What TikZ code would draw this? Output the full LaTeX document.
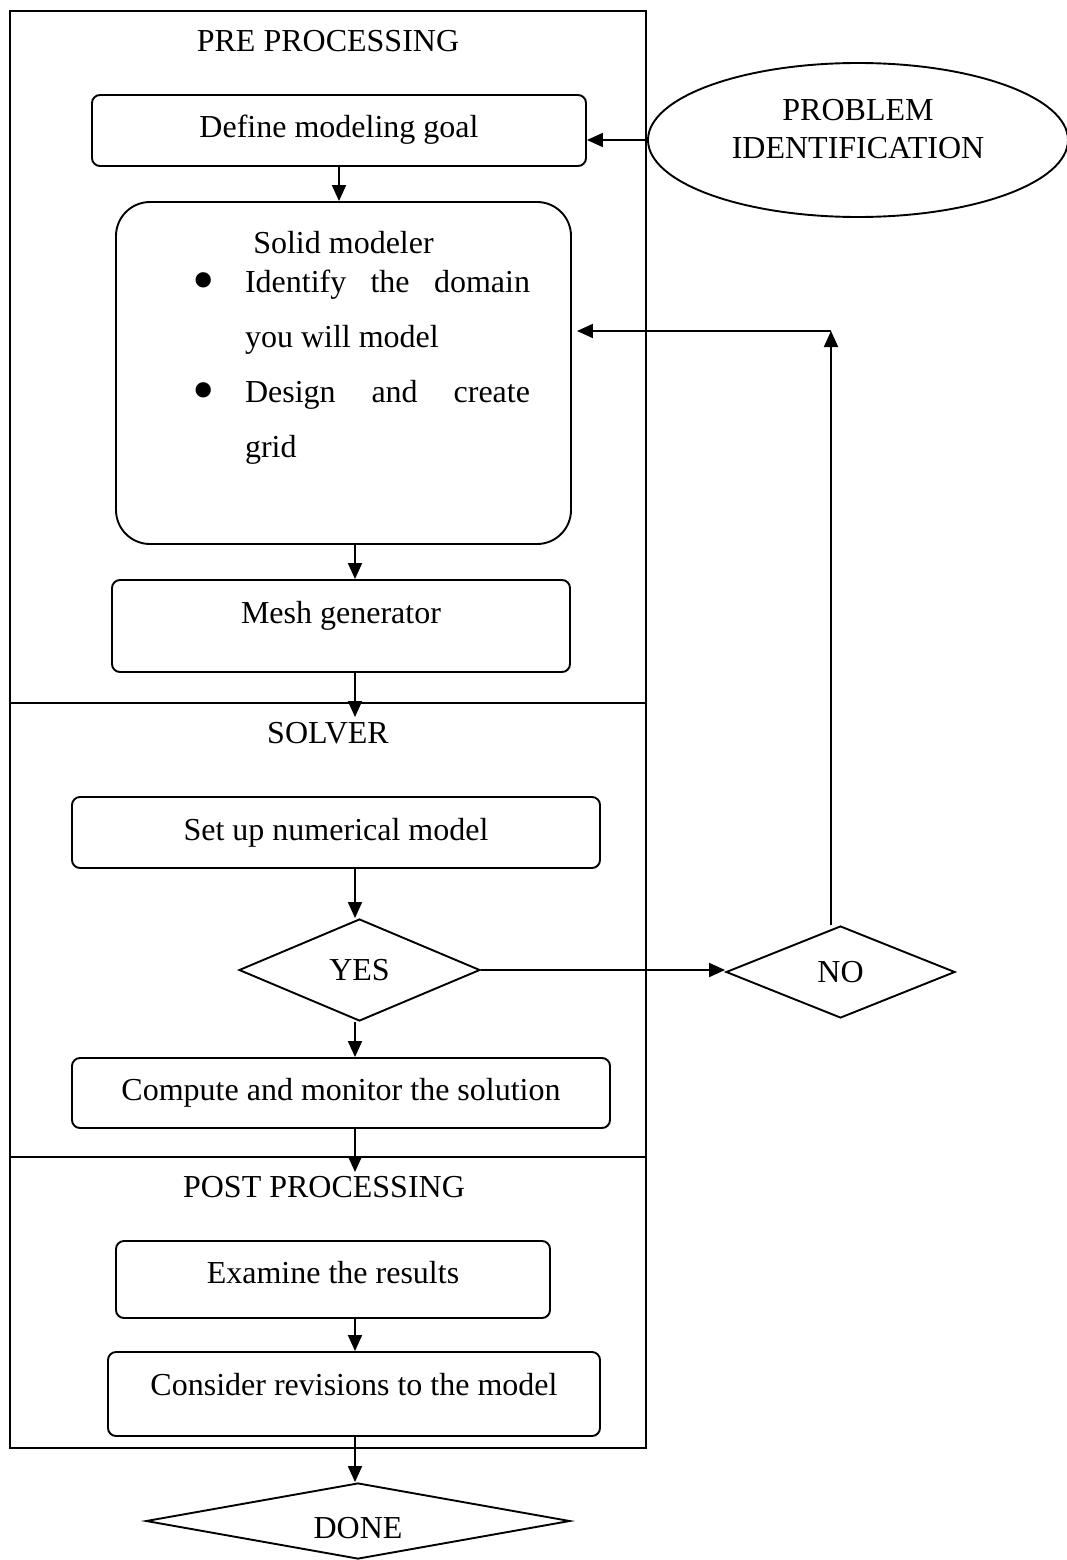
\documentclass[tikz,border=0pt]{standalone}
\usepackage{fontspec}
\setmainfont{Liberation Serif}
\usetikzlibrary{shapes.geometric,arrows.meta}

\tikzstyle{block} = [draw, rectangle, rounded corners=8pt, inner sep=0pt,
    text height=22pt, text depth=7pt]
\tikzstyle{solidbox} = [draw, rectangle, rounded corners=34pt, inner sep=0pt,
    minimum width=455pt, minimum height=342pt]
\tikzstyle{decision} = [draw, diamond, inner sep=0pt]
\tikzstyle{start} = [draw, ellipse, inner sep=0pt, align=center]
\tikzstyle{stage} = [anchor=base, inner sep=0pt]

\begin{document}
\begin{tikzpicture}[x=1pt, y=-1pt, line width=1.9pt,
    >={Triangle[length=16pt,width=14pt]},
    every node/.style={font=\fontsize{32}{38}\selectfont}]
    \useasboundingbox (0,0) rectangle (1067,1560);

    % frame with the three stages
    \draw (10,11) rectangle (646,1448);
    \draw (10,703) -- (646,703);
    \draw (10,1157) -- (646,1157);

    \node[stage] (pre) at (328,52) {PRE PROCESSING};
    \node[stage] (solver) at (328,743) {SOLVER};
    \node[stage] (post) at (324,1197) {POST PROCESSING};

    \node[block, minimum width=494pt, minimum height=71pt] (goal) at (339,130.5) {Define modeling goal};
    \node[start, minimum width=420pt, minimum height=154pt, text depth=23pt] (problem) at (858,140) {PROBLEM\\IDENTIFICATION};
    \node[solidbox] (solid) at (343.5,373) {%
      \begin{minipage}[c][342pt][t]{373pt}
        \fontsize{32}{55}\selectfont
        \vspace*{35pt}
        {\centering\raisebox{-16pt}[0pt][0pt]{Solid modeler}\par}
        \begin{list}{\raisebox{-9pt}{\scalebox{2}{\textbullet}}}{\setlength{\leftmargin}{88pt}\setlength{\labelwidth}{24pt}%
            \setlength{\labelsep}{30pt}\setlength{\topsep}{0pt}\setlength{\partopsep}{0pt}%
            \setlength{\itemsep}{0pt}\setlength{\parsep}{0pt}}
          \item Identify\hfill the\hfill domain\\ you will model
          \item Design\hfill and\hfill create\\ grid
        \end{list}
      \end{minipage}};
    \node[block, minimum width=458pt, minimum height=92pt, text depth=28pt] (mesh) at (341,626) {Mesh generator};

    \node[block, minimum width=528pt, minimum height=71pt] (setup) at (336,832.5) {Set up numerical model};
    \node[decision, aspect=2.36, minimum width=241pt, minimum height=102pt] (yes) at (359.5,970) {YES};
    \node[decision, aspect=2.49, minimum width=229pt, minimum height=92pt] (no) at (840.5,972) {NO};
    \node[block, minimum width=538pt, minimum height=70pt] (compute) at (341,1093) {Compute and monitor the solution};

    \node[block, minimum width=434pt, minimum height=77pt, text depth=15pt] (examine) at (333,1279.5) {Examine the results};
    \node[block, minimum width=492pt, minimum height=84pt, text depth=20pt] (revise) at (354,1394) {Consider revisions to the model};
    \node[decision, aspect=5.58, minimum width=424pt, minimum height=76pt, text height=34pt, text depth=0pt] (done) at (358,1521) {DONE};

    \coordinate (spine) at (355,0);
    \coordinate (solvertip) at (355,717);
    \coordinate (posttip) at (355,1172);
    \coordinate (loop) at (831,331);

    \draw[->] (problem.west) -- (problem.west -| goal.east);
    \draw[->] (goal.south) -- (goal.south |- solid.north);
    \draw[->] (solid.south -| spine) -- (mesh.north -| spine);
    \draw[->] (mesh.south -| spine) -- (solvertip);
    \draw[->] (setup.south -| spine) -- (yes.north -| spine);
    \draw[->] (yes.east) -- (yes.east -| no.west);
    \draw[->] (yes.south -| spine) -- (compute.north -| spine);
    \draw[->] (compute.south -| spine) -- (posttip);
    \draw[->] (examine.south -| spine) -- (revise.north -| spine);
    \draw[->] (revise.south -| spine) -- (done.north -| spine);
    \draw[->] (loop |- no.north) -- (loop);
    \draw[->, shorten >=5pt] (loop) -- (loop -| solid.east);
\end{tikzpicture}
\end{document}
